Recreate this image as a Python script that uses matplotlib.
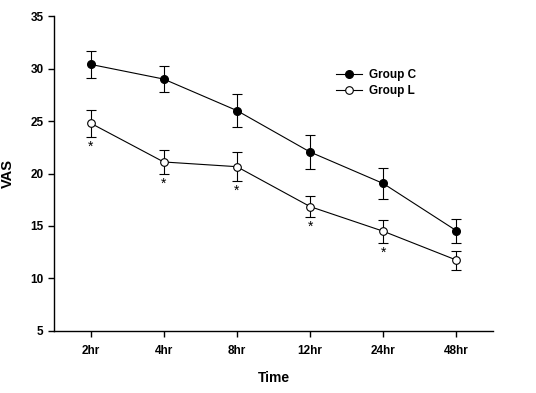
import matplotlib
matplotlib.use("Agg")
import matplotlib.pyplot as plt

plt.rcParams["font.family"] = ["Liberation Sans", "DejaVu Sans"]
plt.rcParams["font.weight"] = "bold"

times = ["2hr", "4hr", "8hr", "12hr", "24hr", "48hr"]
group_c = [30.4, 29.0, 26.0, 22.05, 19.05, 14.55]
group_c_err = [1.3, 1.2, 1.55, 1.6, 1.5, 1.15]
group_l = [24.8, 21.1, 20.65, 16.85, 14.5, 11.75]
group_l_err = [1.3, 1.1, 1.4, 1.0, 1.1, 0.9]
signif = [True, True, True, True, True, False]

x = list(range(len(times)))

fig = plt.figure(figsize=(5.36, 3.93), dpi=100)
ax = fig.add_axes([0.1007, 0.158, 0.819, 0.801])

# error bars first, then lines + markers on top
ax.errorbar(x, group_c, yerr=group_c_err, fmt="none", ecolor="black", elinewidth=0.8,
            capsize=3.5, capthick=0.8)
ax.errorbar(x, group_l, yerr=group_l_err, fmt="none", ecolor="black", elinewidth=0.8,
            capsize=3.5, capthick=0.8)
ax.plot(x, group_c, color="black", lw=0.8, marker="o", ms=5.5, mfc="black",
        mec="black", label="Group C")
ax.plot(x, group_l, color="black", lw=0.8, marker="o", ms=5.5, mfc="white",
        mec="black", mew=0.8, label="Group L")

# asterisks under group L
for i in range(len(times)):
    if signif[i]:
        ax.annotate("*", (x[i], group_l[i] - group_l_err[i]), xytext=(0, -2),
                    textcoords="offset points", ha="center", va="top",
                    fontsize=10, fontweight="normal")

ax.set_xlim(-0.5, 5.5)
ax.set_ylim(5, 35)
ax.set_yticks([5, 10, 15, 20, 25, 30, 35])
ax.set_xticks(x)
ax.set_xticklabels(times)

ax.spines["top"].set_visible(False)
ax.spines["right"].set_visible(False)
ax.spines["left"].set_linewidth(1.0)
ax.spines["bottom"].set_linewidth(1.0)
ax.tick_params(axis="both", direction="out", length=4, width=1.0, labelsize=8.5)
ax.tick_params(axis="x", pad=6)
ax.tick_params(axis="y", pad=3.5)
for lbl in ax.get_xticklabels() + ax.get_yticklabels():
    lbl.set_fontweight("bold")

ax.set_xlabel("Time", fontsize=10, fontweight="bold", labelpad=10)
ax.set_ylabel("VAS", fontsize=10.5, fontweight="bold")
ax.yaxis.set_label_coords(-0.088, 0.5)

leg = ax.legend(loc="upper left", bbox_to_anchor=(0.628, 0.85), frameon=False,
                borderpad=0, handlelength=2.2, handletextpad=0.6, labelspacing=0.35,
                prop={"size": 8.5, "weight": "bold"})

fig.savefig("out.png", dpi=100)
